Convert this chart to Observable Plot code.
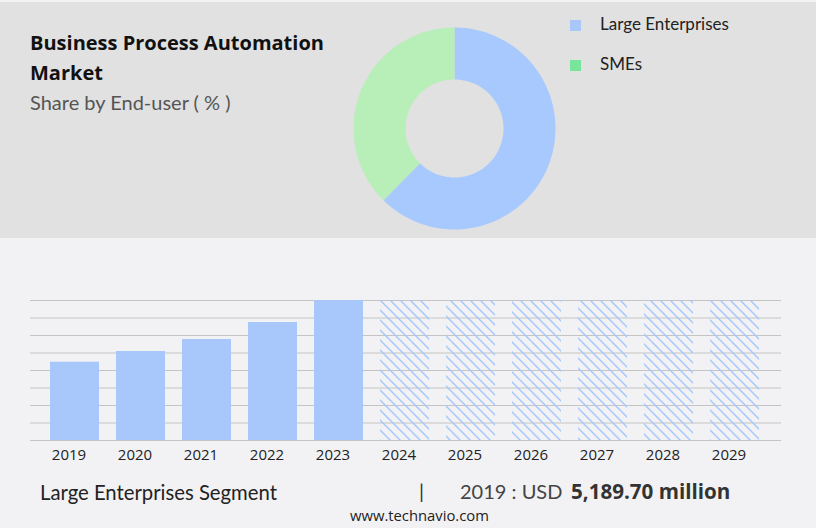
<!DOCTYPE html>
<html><head><meta charset="utf-8">
<script src="https://cdn.jsdelivr.net/npm/d3@7"></script>
<script src="https://cdn.jsdelivr.net/npm/@observablehq/plot@0.6"></script>
<style>
html,body{margin:0;padding:0;}
body{width:816px;height:528px;overflow:hidden;background:#f2f2f4;position:relative;font-family:"Open Sans",sans-serif;}
#top{position:absolute;left:0;top:2px;width:816px;height:236px;background:#e1e1e1;}
.abs{position:absolute;}
</style></head><body>
<div id="top"></div>
<svg width="0" height="0" style="position:absolute"><defs>
<pattern id="hatch" patternUnits="userSpaceOnUse" width="10" height="10">
<path d="M-2,-2 L12,12 M-2,8 L2,12 M8,-2 L12,2" stroke="#a8c8fc" stroke-width="1.5" fill="none"/>
</pattern></defs></svg>
<div id="donut" class="abs" style="left:353px;top:27px"></div>
<div id="bars" class="abs" style="left:0;top:280px"></div>
<svg id="txt" class="abs" style="left:0;top:0" width="816" height="528">
  <text x="30" y="50" font-family="Open Sans" font-weight="700" font-size="20" fill="#111">Business Process Automation</text>
  <text x="30" y="80" font-family="Open Sans" font-weight="700" font-size="20" fill="#111">Market</text>
  <text x="30" y="110" font-family="Lato" font-size="20" fill="#555">Share by End-user ( % )</text>
  <rect x="570" y="20" width="11" height="11" fill="#a8c8fc"/>
  <text x="600" y="30" font-family="Lato" font-size="17" fill="#222">Large Enterprises</text>
  <rect x="570" y="60" width="11" height="11" fill="#78e69a"/>
  <text x="600" y="70" font-family="Lato" font-size="17" fill="#222">SMEs</text>
  <text x="40" y="500" font-family="Lato" font-size="20.3" fill="#222">Large Enterprises Segment</text>
  <text x="419" y="499" font-family="Lato" font-size="20" fill="#333">|</text>
  <text x="460" y="499" font-family="Lato" font-size="20" fill="#444">2019 : USD</text>
  <text x="571" y="499" font-family="Open Sans" font-weight="700" font-size="20.6" fill="#333">5,189.70 million</text>
  <text x="350" y="521" font-family="Open Sans" font-size="14.8" fill="#222">www.technavio.com</text>
</svg>
<script>
// Donut data
const segments = ["Large Enterprises", "SMEs"];
const shares = [62.4, 37.6];
const donutColors = ["#a8c9fe", "#b8eeb8"];

// Bar data
const years = ["2019","2020","2021","2022","2023","2024","2025","2026","2027","2028","2029"];
const actualYears = ["2019","2020","2021","2022","2023"];
const actualValues = [5189.7, 5900, 6695, 7822, 9280];
const forecastYears = ["2024","2025","2026","2027","2028","2029"];
const yMax = 9280;
const gridValues = [0, 1160, 2320, 3480, 4640, 5800, 6960, 8120, 9280];

// donut geometry from the shares
const R = 101, r0 = 49;
const arcs = d3.pie().sort(null).value(d => d)(shares);
const donutMarks = arcs.map((a, i) => {
  const pts = [];
  const n = 120;
  for (let k = 0; k <= n; k++) {
    const t = a.startAngle + (a.endAngle - a.startAngle) * k / n;
    pts.push({x: R * Math.sin(t), y: R * Math.cos(t)});
  }
  for (let k = n; k >= 0; k--) {
    const t = a.startAngle + (a.endAngle - a.startAngle) * k / n;
    pts.push({x: r0 * Math.sin(t), y: r0 * Math.cos(t)});
  }
  return Plot.line(pts, {x: "x", y: "y", fill: donutColors[i], stroke: "none"});
});
document.getElementById("donut").append(Plot.plot({
  width: 202, height: 202, margin: 0,
  x: {domain: [-101, 101], axis: null},
  y: {domain: [-101, 101], axis: null},
  style: {background: "transparent", overflow: "visible"},
  marks: donutMarks
}));

const actual = actualYears.map((y, i) => ({year: y, value: actualValues[i]}));
const forecast = forecastYears.map(y => ({year: y, value: yMax}));

document.getElementById("bars").append(Plot.plot({
  width: 816, height: 190,
  marginTop: 20, marginBottom: 30, marginLeft: 30, marginRight: 35,
  x: {domain: years, range: [41.5, 767.5], paddingInner: 0.2576, paddingOuter: 0.1288, label: null},
  y: {domain: [0, yMax], axis: null},
  style: {background: "transparent", fontFamily: "Open Sans", fontSize: "15px", color: "#222"},
  marks: [
    Plot.ruleY(gridValues, {stroke: "#c4c4c4", strokeWidth: 1.2}),
    Plot.barY(actual, {x: "year", y: "value", fill: "#a8c8fc"}),
    Plot.barY(forecast, {x: "year", y: "value", fill: "url(#hatch)"}),
    Plot.axisX({tickSize: 0, tickPadding: 9, dx: -6, label: null, fontSize: 15})
  ]
}));
</script>
</body></html>
